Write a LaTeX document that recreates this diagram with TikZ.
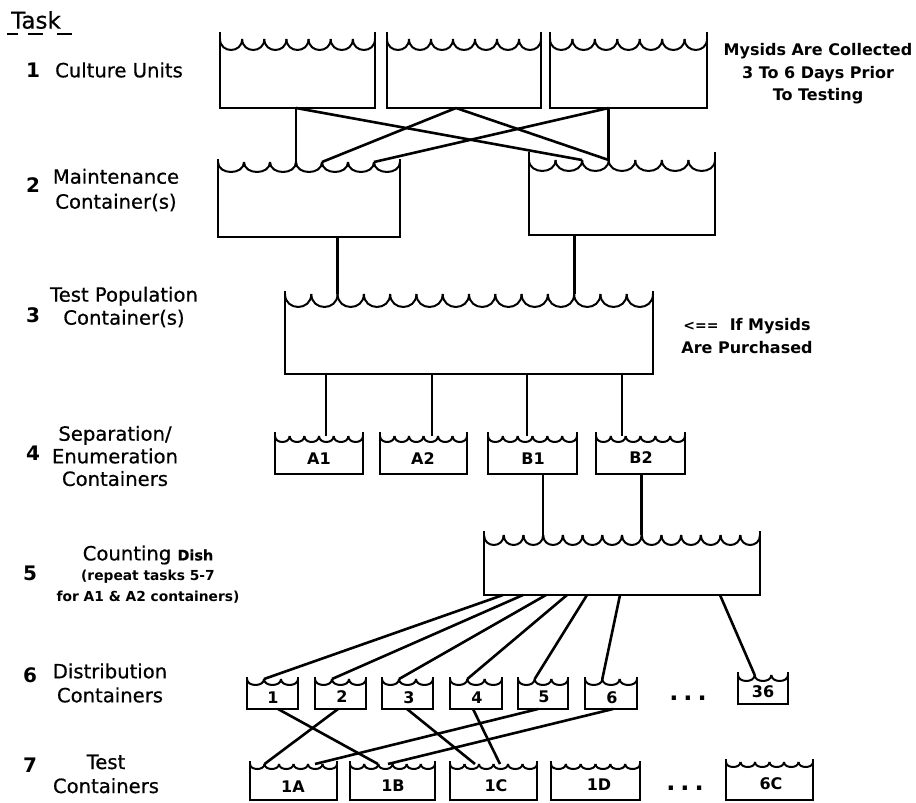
\documentclass[tikz,border=0pt]{standalone}
\usepackage{fontspec}
\setmainfont{DejaVu Sans}
\newfontfamily\medfont[FakeBold=0.6]{DejaVu Sans}
\newcommand\tankdraw[7]{%
  % #1 x left, #2 x right, #3 wall top, #4 cusp y, #5 scallop depth, #6 bottom y, #7 number of scallops
  \draw[tankline] (#1,#3) -- (#1,#6) -- (#2,#6) -- (#2,#3);
  \pgfmathsetmacro\tkw{(#2-#1)/#7}%
  \pgfmathsetmacro\tkh{#4+1.33*#5}%
  \foreach \tkk in {1,...,#7}{%
    \pgfmathsetmacro\tkxa{#1+(\tkk-1)*\tkw}%
    \pgfmathsetmacro\tkxb{\tkxa+\tkw}%
    \draw[scallop] (\tkxa,#4) .. controls (\tkxa,\tkh) and (\tkxb,\tkh) .. (\tkxb,#4);
  }%
}
\begin{document}
\begin{tikzpicture}[x=0.5pt,y=-0.5pt,
  tankline/.style={line width=1.2pt, line join=miter},
  scallop/.style={line width=1pt},
  link/.style={line width=1.3pt},
  lab/.style={font=\medfont\fontsize{9.8}{12}\selectfont, align=center, inner sep=0pt},
  num/.style={font=\fontsize{10}{12}\selectfont\bfseries, inner sep=0pt},
  boxlab/.style={font=\fontsize{8}{8}\selectfont\bfseries, inner sep=0pt},
  note/.style={font=\fontsize{8}{11.3}\selectfont\bfseries, align=center, inner sep=0pt},
  dotsl/.style={font=\fontsize{12}{12}\selectfont\bfseries, inner sep=0pt}]
\useasboundingbox (0,0) rectangle (916,803);

% ---------- left column ----------
\node[lab, font=\medfont\fontsize{11.5}{12}\selectfont] (task) at (36,20) {Task};
\draw[line width=1.4pt] (7,34) -- (18,34);
\draw[line width=1.4pt] (28,34) -- (43,34);
\draw[line width=1.4pt] (57,34) -- (72,34);

\node[num] (n1) at (33,70) {1};
\node[lab] (l1) at (119,70) {Culture Units};
\node[num] (n2) at (33,185) {2};
\node[lab, font=\medfont\fontsize{9.8}{12.5}\selectfont] (l2) at (116,190) {Maintenance\\Container(s)};
\node[num] (n3) at (33,315) {3};
\node[lab, font=\medfont\fontsize{9.8}{11.5}\selectfont] (l3) at (124,307) {Test Population\\Container(s)};
\node[num] (n4) at (33,453) {4};
\node[lab, font=\medfont\fontsize{9.8}{11.3}\selectfont] (l4) at (115,456) {Separation/\\Enumeration\\Containers};
\node[num] (n5) at (30,573) {5};
\node[lab] (l5a) at (148,555) {Counting {\bfseries\fontsize{7.2}{8}\selectfont Dish}};
\node[lab, font=\fontsize{6.9}{8}\selectfont\bfseries] (l5b) at (148,577) {(repeat tasks 5-7};
\node[lab, font=\fontsize{6.9}{8}\selectfont\bfseries] (l5c) at (148,597) {for A1 \& A2 containers)};
\node[num] (n6) at (30,675) {6};
\node[lab] (l6) at (110,683) {Distribution\\Containers};
\node[num] (n7) at (30,765) {7};
\node[lab] (l7) at (106,774) {Test\\Containers};

% ---------- notes ----------
\node[note] (noteA) at (818,74) {Mysids Are Collected\\3 To 6 Days Prior\\To Testing};
\node[note] (noteB) at (747,336) {{\fontsize{7}{7}\selectfont <==}\ \ If Mysids\\Are Purchased};

% ---------- row 1: culture units ----------
\tankdraw{220}{375}{32}{39}{11}{108}{7}
\tankdraw{387}{541}{32}{39}{11}{108}{7}
\tankdraw{550}{707}{32}{39}{11}{108}{7}
% ---------- row 2: maintenance ----------
\tankdraw{218}{400}{159}{162}{10}{237}{7}
\tankdraw{529}{715}{152}{160}{11}{235}{7}
% ---------- row 3: test population ----------
\tankdraw{285}{653}{291}{294}{13}{374}{14}
% ---------- row 4 ----------
\tankdraw{275}{363}{432}{436}{6}{474}{6}
\tankdraw{380}{467}{432}{436}{6}{474}{6}
\tankdraw{488}{577}{432}{436}{6}{474}{6}
\tankdraw{596}{685}{432}{436}{6}{474}{6}
\node[boxlab] (A1) at (319,459) {A1};
\node[boxlab] (A2) at (423,459) {A2};
\node[boxlab] (B1) at (533,459) {B1};
\node[boxlab] (B2) at (641,458) {B2};
% ---------- row 5: counting dish ----------
\tankdraw{484}{760}{531}{535}{10}{595}{14}
% ---------- row 6: distribution ----------
\tankdraw{247}{298}{677}{679}{6}{709}{3}
\tankdraw{315}{366}{677}{679}{6}{709}{3}
\tankdraw{382}{433}{677}{679}{6}{709}{3}
\tankdraw{450}{502}{677}{679}{6}{709}{3}
\tankdraw{518}{568}{677}{679}{6}{709}{3}
\tankdraw{585}{637}{677}{679}{6}{709}{3}
\tankdraw{738}{788}{672}{675}{6}{704}{3}
\node[boxlab] (d1) at (273,698) {1};
\node[boxlab] (d2) at (342,697) {2};
\node[boxlab] (d3) at (409,698) {3};
\node[boxlab] (d4) at (477,698) {4};
\node[boxlab] (d5) at (544,697) {5};
\node[boxlab] (d6) at (612,698) {6};
\node[boxlab] (d36) at (763,692) {36};
\node[dotsl] (dotsA) at (688,698) {.\hspace{2.5pt}.\hspace{2.5pt}.};
% ---------- row 7: test containers ----------
\tankdraw{250}{337}{761}{764}{5}{800}{6}
\tankdraw{350}{435}{761}{764}{5}{800}{6}
\tankdraw{450}{537}{761}{764}{5}{800}{6}
\tankdraw{551}{640}{761}{764}{5}{800}{6}
\tankdraw{726}{813}{759}{762}{5}{800}{6}
\node[boxlab] (t1A) at (293,787) {1A};
\node[boxlab] (t1B) at (393,786) {1B};
\node[boxlab] (t1C) at (496,786) {1C};
\node[boxlab] (t1D) at (599,785) {1D};
\node[boxlab] (t6C) at (771,784) {6C};
\node[dotsl] (dotsB) at (685,788) {.\hspace{2.5pt}.\hspace{2.5pt}.};

% ---------- connection points ----------
\coordinate (u1b) at (296,108);
\coordinate (u2b) at (456,108);
\coordinate (u3b) at (608.7,108);
\coordinate (m1a) at (296,162);
\coordinate (m1b) at (322,162);
\coordinate (m1c) at (374,162);
\coordinate (m2a) at (582.1,160);
\coordinate (m2b) at (608.7,160);
\coordinate (m1d) at (337.6,237);
\coordinate (m2d) at (574.4,235);
\coordinate (p1) at (337.6,294);
\coordinate (p2) at (574.4,294);
\coordinate (p3) at (326,374);
\coordinate (p4) at (432,374);
\coordinate (p5) at (527,374);
\coordinate (p6) at (622,374);
\coordinate (a1t) at (326,436);
\coordinate (a2t) at (432,436);
\coordinate (b1t) at (527,436);
\coordinate (b2t) at (622,436);
\coordinate (b1d) at (543.1,474);
\coordinate (b2d) at (641.7,474);
\coordinate (s1) at (543.1,535);
\coordinate (s2) at (641.7,535);
\coordinate (o1) at (503,595);
\coordinate (o2) at (523,595);
\coordinate (o3) at (546,595);
\coordinate (o4) at (567,595);
\coordinate (o5) at (587,595);
\coordinate (o6) at (620,595);
\coordinate (o36) at (720,595);
\coordinate (q1) at (264,679);
\coordinate (q2) at (332,679);
\coordinate (q3) at (399,679);
\coordinate (q4) at (467.3,679);
\coordinate (q5) at (534.7,679);
\coordinate (q6) at (602.3,679);
\coordinate (q36) at (754.7,675);
\coordinate (r1) at (278,709);
\coordinate (r2) at (338,709);
\coordinate (r3) at (407,709);
\coordinate (r4) at (473,709);
\coordinate (r5) at (538,709);
\coordinate (r6) at (613,709);
\coordinate (v1A) at (264.5,764);
\coordinate (v1Ab) at (315,764);
\coordinate (v1B) at (378,764);
\coordinate (v1Bb) at (388,764);
\coordinate (v1C) at (475,764);
\coordinate (v1Cb) at (500,764);

% ---------- connectors ----------
\draw[link] (u1b) -- (m1a);
\draw[link] (u1b) -- (m2a);
\draw[link] (u2b) -- (m1b);
\draw[link] (u2b) -- (m2b);
\draw[link] (u3b) -- (m1c);
\draw[link] (u3b) -- (m2b);
\draw[link] (m1d) -- (p1);
\draw[link] (m2d) -- (p2);
\draw[link] (p3) -- (a1t);
\draw[link] (p4) -- (a2t);
\draw[link] (p5) -- (b1t);
\draw[link] (p6) -- (b2t);
\draw[link] (b1d) -- (s1);
\draw[link] (b2d) -- (s2);
\draw[link] (o1) -- (q1);
\draw[link] (o2) -- (q2);
\draw[link] (o3) -- (q3);
\draw[link] (o4) -- (q4);
\draw[link] (o5) -- (q5);
\draw[link] (o6) -- (q6);
\draw[link] (o36) -- (q36);
\draw[link] (r1) -- (v1B);
\draw[link] (r2) -- (v1A);
\draw[link] (r3) -- (v1C);
\draw[link] (r4) -- (v1Cb);
\draw[link] (r5) -- (v1Ab);
\draw[link] (r6) -- (v1Bb);
\end{tikzpicture}
\end{document}
